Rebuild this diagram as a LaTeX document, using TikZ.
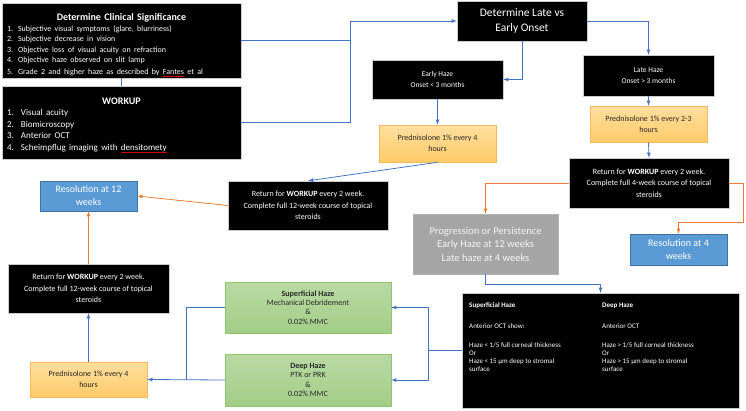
\documentclass[tikz,border=0pt]{standalone}
\usepackage{fontspec}
\setmainfont{Carlito}
\usetikzlibrary{positioning}
\definecolor{lineblue}{HTML}{4472C4}
\definecolor{lineorange}{HTML}{ED7D31}
\definecolor{resblue}{HTML}{5B9BD5}
\definecolor{resedge}{HTML}{41719C}
\definecolor{predtop}{HTML}{FFDF9E}
\definecolor{predbot}{HTML}{FFCB69}
\definecolor{prededge}{HTML}{F4B860}
\definecolor{greentop}{HTML}{B9DAA4}
\definecolor{greenbot}{HTML}{A2CD87}
\definecolor{greenedge}{HTML}{8FC470}
\definecolor{proggray}{HTML}{A5A5A5}
\newcommand{\fsz}[2]{\fontsize{#1}{#2}\selectfont}
\newsavebox{\spellbox}
\newcommand{\spellerr}[1]{\sbox{\spellbox}{#1}\rlap{\textcolor{red!85!black}{\rule[-1.7pt]{\wd\spellbox}{0.5pt}}}\usebox{\spellbox}}
\tikzset{
  sz/.style 2 args={minimum width=#1pt, minimum height=#2pt},
  blk/.style={fill=black, draw=gray!40, line width=0.4pt, text=white, inner sep=0pt},
  pred/.style={top color=predtop, bottom color=predbot, draw=prededge, line width=0.6pt, text=black!85, inner sep=0pt, align=center, font=\fsz{8}{11}},
  treat/.style={top color=greentop, bottom color=greenbot, draw=greenedge, line width=0.4pt, text=black!85, inner sep=0pt, align=center, font=\fsz{8}{9.4}},
  res/.style={fill=resblue, draw=resedge, line width=0.4pt, text=white, inner sep=0pt, align=center, font=\fsz{10}{13}},
  prog/.style={fill=proggray, draw=gray!60, line width=0.4pt, text=gray!8, inner sep=0pt, align=center, font=\fsz{10.5}{13.5}},
  arr/.style={draw=lineblue, line width=0.8pt, -latex},
  oarr/.style={draw=lineorange, line width=0.8pt, -latex},
}
\begin{document}
\begin{tikzpicture}[x=1pt,y=-1pt]
\useasboundingbox (0,0) rectangle (746,410);
% clinical significance and workup
\node[blk, sz={239}{75}, text width=229pt, align=left, inner xsep=5pt] (clin) at (121.5,40.5)
  {{\centering\fsz{10}{12}\bfseries\rule{0pt}{16pt}Determine Clinical Significance\par}
   \fsz{8}{10.6}1. Subjective visual symptoms (glare, blurriness)\\
   2. Subjective decrease in vision\\
   3. Objective loss of visual acuity on refraction\\
   4. Objective haze observed on slit lamp\\
   5. Grade 2 and higher haze as described by \spellerr{Fantes} et al};
\node[blk, sz={239}{73}, text width=229pt, align=left, inner xsep=5pt] (work) at (121.5,122.5)
  {{\centering\fsz{10}{13}\bfseries\rule{0pt}{12pt}WORKUP\par}
   \fsz{9}{11.4}\makebox[14pt][l]{1.}Visual acuity\\
   \makebox[14pt][l]{2.}Biomicroscopy\\
   \makebox[14pt][l]{3.}Anterior OCT\\
   \makebox[14pt][l]{4.}Scheimpflug imaging with \spellerr{densitomety}};
\node[blk, sz={130}{40}, align=center, font=\fsz{11.5}{14.5}] (lve) at (522,21) {Determine Late vs\\Early Onset};
% early / late branches
\node[blk, sz={131}{39}, align=center, font=\fsz{7.5}{11}] (early) at (437.5,79.5) {Early Haze\\Onset < 3 months};
\node[blk, sz={131}{41}, align=center, font=\fsz{7.5}{11}] (late) at (648.5,75.5) {Late Haze\\Onset > 3 months};
\node[pred, sz={117}{37}] (epred) at (437.5,143.5) {Prednisolone 1\% every 4\\hours};
\node[pred, sz={117}{36}] (lpred) at (648.5,124) {Prednisolone 1\% every 2-3\\hours};
\node[blk, sz={160}{50}, align=center, font=\fsz{8}{11.5}] (ret4) at (649,183)
  {Return for \textbf{WORKUP} every 2 week.\\Complete full 4-week course of topical\\steroids};
\node[blk, sz={160}{49}, align=center, font=\fsz{8}{11.5}] (ret12a) at (308,205.5)
  {Return for \textbf{WORKUP} every 2 week.\\Complete full 12-week course of topical\\steroids};
\node[res, sz={97}{30}] (res12) at (88.5,196) {Resolution at 12\\weeks};
\node[res, sz={97}{31}] (res4) at (678.5,249.5) {Resolution at 4\\weeks};
\node[prog, sz={145}{60}] (prog) at (485.5,244) {Progression or Persistence\\Early Haze at 12 weeks\\Late haze at 4 weeks};
% haze depth
\node[blk, sz={277}{115}] (table) at (600.5,350.5) {};
\node[inner sep=0pt, anchor=north west, text=white, font=\fsz{7}{7.8}] (tabtxt) at (469,301.6)
  {\begin{tabular}{@{}p{133pt}@{}p{130pt}@{}}
   \textbf{Superficial Haze} & \textbf{Deep Haze}\\[13pt]
   Anterior OCT show: & Anterior OCT\\[12pt]
   Haze < 1/5 full corneal thickness\newline Or\newline Haze < 15 µm deep to stromal\newline surface &
   Haze > 1/5 full corneal thickness\newline Or\newline Haze > 15 µm deep to stromal\newline surface
   \end{tabular}};
\node[treat, sz={166}{51}] (sup) at (308,307.5) {\textbf{Superficial Haze}\\Mechanical Debridement\\\&\\0.02\% MMC};
\node[treat, sz={166}{52}] (deep) at (308,380) {\textbf{Deep Haze}\\PTK or PRK\\\&\\0.02\% MMC};
\node[pred, sz={117}{35}] (epred2) at (88.5,379.5) {Prednisolone 1\% every 4\\hours};
\node[blk, sz={161}{49}, align=center, font=\fsz{8}{11.5}] (ret12b) at (88.5,288.5)
  {Return for \textbf{WORKUP} every 2 week.\\Complete full 12-week course of topical\\steroids};
% junctions
\coordinate (jl) at (350,21);
\coordinate (jr) at (743,222);
\coordinate (jp) at (485.5,284);
\coordinate (jt) at (428,350.5);
\coordinate (jg) at (186,380);
% connectors
\draw[lineblue, line width=0.8pt] (clin.south) -- (work.north);
\draw[lineblue, line width=0.8pt] (work.east) -| (jl);
\draw[arr] (clin.east) -| (jl) -- (lve.west);
\draw[arr] (lve.south) |- (early.east);
\draw[arr] (lve.east) -| (late.north);
\draw[arr] (early.south) -- (epred.north);
\draw[arr] (late.south) -- (lpred.north);
\draw[arr] (lpred.south) -- (ret4.north);
\draw[arr] (epred.south) -- (ret12a.north);
\draw[oarr] (ret12a.west) -- (res12.east);
\draw[oarr] (ret4.west) -| (prog.north);
\draw[oarr] (ret4.east) -| (jr) -| (res4.north);
\draw[arr] (prog.south) -- (jp) -| (table.north);
\draw[lineblue, line width=0.8pt] (table.west) -- (jt);
\draw[arr] (jt) |- (sup.east);
\draw[arr] (jt) |- (deep.east);
\draw[lineblue, line width=0.8pt] (sup.west) -| (jg);
\draw[arr] (deep.west) -- (epred2.east);
\draw[arr] (epred2.north) -- (ret12b.south);
\draw[oarr] (ret12b.north) -- (res12.south);
\end{tikzpicture}
\end{document}
